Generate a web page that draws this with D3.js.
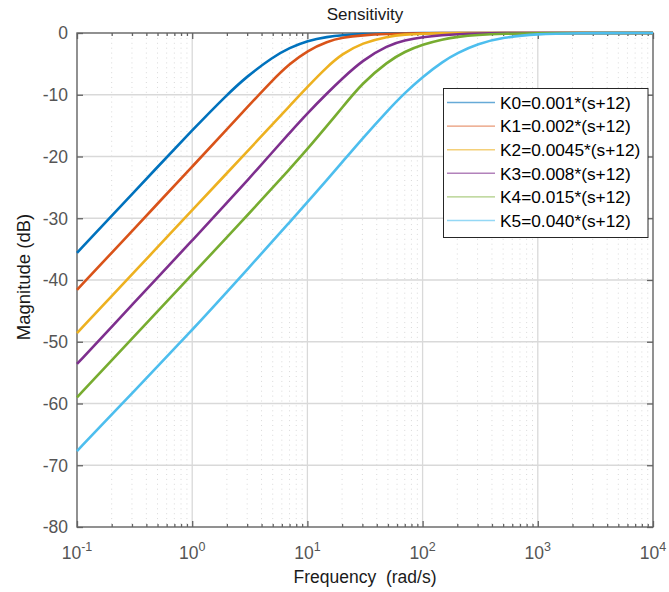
<!DOCTYPE html>
<html>
<head>
<meta charset="utf-8">
<script src="https://cdn.jsdelivr.net/npm/d3@7"></script>
<style>
  html, body { margin: 0; padding: 0; background: #ffffff; }
  svg { display: block; font-family: "Liberation Sans", Arial, Helvetica, sans-serif; }
</style>
</head>
<body>
<svg id="chart" width="669" height="592"></svg>
<script>
// Frequency samples (rad/s) shared by all magnitude curves
const freqs = [0.1, 0.2, 0.5, 1, 2, 3, 5, 7, 10, 15, 20, 30, 50, 70, 100, 150, 200, 300, 500, 1000, 2000, 10000];

// Sensitivity magnitude (dB) for each controller gain
const magK0 = [-35.6, -29.6, -21.7, -15.75, -10.0, -7.0, -3.9, -2.4, -1.25, -0.6, -0.35, -0.15, -0.06, -0.03, -0.01, 0, 0, 0, 0, 0, 0, 0];
const magK1 = [-41.6, -35.6, -27.65, -21.65, -15.6, -12.05, -7.6, -5.0, -2.85, -1.35, -0.75, -0.35, -0.13, -0.07, -0.04, -0.02, 0, 0, 0, 0, 0, 0];
const magK2 = [-48.6, -42.6, -34.7, -28.7, -22.7, -19.2, -14.75, -11.83, -8.73, -5.38, -3.4, -1.6, -0.55, -0.24, -0.1, -0.04, -0.02, 0, 0, 0, 0, 0];
const magK3 = [-53.6, -47.6, -39.6, -33.6, -27.52, -23.91, -19.25, -16.18, -13.0, -9.66, -7.41, -4.42, -1.98, -1.18, -0.65, -0.33, -0.19, -0.08, -0.01, 0, 0, 0];
const magK4 = [-59.0, -53.0, -45.1, -39.1, -33.1, -29.55, -25.05, -22.05, -18.8, -14.9, -12.1, -8.1, -4.6, -3.0, -1.85, -1.0, -0.62, -0.3, -0.11, -0.03, 0, 0];
const magK5 = [-67.7, -61.8, -54.0, -48.1, -41.95, -38.3, -33.7, -30.65, -27.4, -23.65, -20.95, -17.1, -12.5, -9.7, -7.1, -4.6, -3.25, -1.75, -0.7, -0.15, -0.03, 0];

const seriesNames = ["K0=0.001*(s+12)", "K1=0.002*(s+12)", "K2=0.0045*(s+12)", "K3=0.008*(s+12)", "K4=0.015*(s+12)", "K5=0.040*(s+12)"];
const seriesValues = [magK0, magK1, magK2, magK3, magK4, magK5];
const seriesColors = ["#0072BD", "#D95319", "#EDB120", "#7E2F8E", "#77AC30", "#4DBEEE"];

// Axis ticks
const yTicks = [-80, -70, -60, -50, -40, -30, -20, -10, 0];
const xDecadeExps = [-1, 0, 1, 2, 3, 4];

const svg = d3.select("#chart");
const M = { left: 77, right: 653, top: 33, bottom: 527 };

const x = d3.scaleLog().domain([0.1, 10000]).range([M.left, M.right]);
const y = d3.scaleLinear().domain([-80, 0]).range([M.bottom, M.top]);

const decades = xDecadeExps.map(e => Math.pow(10, e));
const minors = [];
for (let e = -1; e < 4; e++) {
  for (let m = 2; m <= 9; m++) minors.push(m * Math.pow(10, e));
}

const axisColor = "#636363";
const gridColor = "#d9d9d9";

// Minor vertical grid (dotted)
svg.append("g").selectAll("line").data(minors).join("line")
  .attr("x1", d => x(d)).attr("x2", d => x(d))
  .attr("y1", M.top).attr("y2", M.bottom)
  .attr("stroke", "#d9d9d9").attr("stroke-width", 1)
  .attr("stroke-dasharray", "1,3.9");

// Major grid
svg.append("g").selectAll("line").data(decades.slice(1, -1)).join("line")
  .attr("x1", d => x(d)).attr("x2", d => x(d))
  .attr("y1", M.top).attr("y2", M.bottom)
  .attr("stroke", gridColor).attr("stroke-width", 1.3);
svg.append("g").selectAll("line").data(yTicks.slice(1, -1)).join("line")
  .attr("x1", M.left).attr("x2", M.right)
  .attr("y1", d => y(d)).attr("y2", d => y(d))
  .attr("stroke", gridColor).attr("stroke-width", 1.3);

// Axes with inward ticks on all four sides
function styleAxis(g) {
  g.select(".domain").remove();
  g.selectAll(".tick line").attr("stroke", axisColor).attr("stroke-width", 1.3);
  g.selectAll(".tick text").remove();
}
const none = () => "";
svg.append("g").attr("transform", `translate(0,${M.bottom})`)
  .call(d3.axisBottom(x).tickValues(decades).tickSize(-6).tickFormat(none)).call(styleAxis);
svg.append("g").attr("transform", `translate(0,${M.bottom})`)
  .call(d3.axisBottom(x).tickValues(minors).tickSize(-3).tickFormat(none)).call(styleAxis);
svg.append("g").attr("transform", `translate(0,${M.top})`)
  .call(d3.axisTop(x).tickValues(decades).tickSize(-6).tickFormat(none)).call(styleAxis);
svg.append("g").attr("transform", `translate(0,${M.top})`)
  .call(d3.axisTop(x).tickValues(minors).tickSize(-3).tickFormat(none)).call(styleAxis);
svg.append("g").attr("transform", `translate(${M.left},0)`)
  .call(d3.axisLeft(y).tickValues(yTicks).tickSize(-6).tickFormat(none)).call(styleAxis);
svg.append("g").attr("transform", `translate(${M.right},0)`)
  .call(d3.axisRight(y).tickValues(yTicks).tickSize(-6).tickFormat(none)).call(styleAxis);

// Axes box
svg.append("rect")
  .attr("x", M.left).attr("y", M.top)
  .attr("width", M.right - M.left).attr("height", M.bottom - M.top)
  .attr("fill", "none").attr("stroke", axisColor).attr("stroke-width", 1.4);

// Tick labels
const tickFill = "#555555";
svg.append("g").selectAll("text").data(yTicks).join("text")
  .attr("x", M.left - 9).attr("y", d => y(d)).attr("dy", "0.36em")
  .attr("text-anchor", "end").attr("font-size", 17.5).attr("fill", tickFill)
  .text(d => d);

const xl = svg.append("g").selectAll("text").data(xDecadeExps).join("text")
  .attr("x", e => x(Math.pow(10, e))).attr("y", 559)
  .attr("text-anchor", "middle").attr("font-size", 17.5).attr("fill", tickFill);
xl.append("tspan").text("10");
xl.append("tspan").attr("font-size", 12.5).attr("dy", -8).text(e => e);

// Curves (B-spline through the sampled magnitudes, in log-frequency space)
const line = d3.line()
  .x(d => x(d[0]))
  .y(d => y(d[1]))
  .curve(d3.curveBasis);

svg.append("g").selectAll("path").data(seriesValues).join("path")
  .attr("d", vals => line(freqs.map((f, i) => [f, vals[i]])))
  .attr("fill", "none")
  .attr("stroke", (d, i) => seriesColors[i])
  .attr("stroke-width", 2.6)
  .attr("stroke-linejoin", "round");

// Title and axis labels
svg.append("text").attr("x", (M.left + M.right) / 2).attr("y", 20)
  .attr("text-anchor", "middle").attr("font-size", 17).attr("fill", "#1a1a1a")
  .text("Sensitivity");
svg.append("text").attr("x", (M.left + M.right) / 2).attr("y", 583)
  .attr("text-anchor", "middle").attr("font-size", 17.5).attr("fill", "#1a1a1a")
  .attr("xml:space", "preserve")
  .text("Frequency  (rad/s)");
svg.append("text")
  .attr("transform", `translate(30,${(M.top + M.bottom) / 2 - 3}) rotate(-90)`)
  .attr("text-anchor", "middle").attr("font-size", 18.5).attr("fill", "#1a1a1a")
  .text("Magnitude (dB)");

// Legend
const lg = svg.append("g");
lg.append("rect").attr("x", 443.5).attr("y", 88.5).attr("width", 204.5).attr("height", 149)
  .attr("fill", "#ffffff").attr("stroke", "#262626").attr("stroke-width", 1);
const rows = lg.selectAll("g.row").data(seriesNames).join("g")
  .attr("transform", (d, i) => `translate(0,${102.5 + i * 23.6})`);
rows.append("line").attr("x1", 447).attr("x2", 495).attr("y1", 0).attr("y2", 0)
  .attr("stroke", (d, i) => seriesColors[i]).attr("stroke-opacity", 0.6).attr("stroke-width", 1.4);
rows.append("text").attr("x", 500).attr("y", 0).attr("dy", "0.36em")
  .attr("font-size", 17.3).attr("fill", "#000000").text(d => d);
</script>
</body>
</html>
